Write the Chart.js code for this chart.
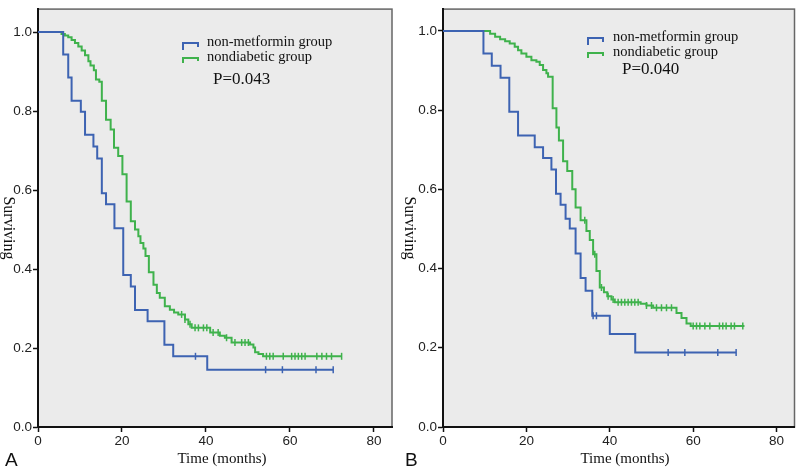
<!DOCTYPE html>
<html>
<head>
<meta charset="utf-8">
<script src="https://cdn.jsdelivr.net/npm/chart.js@4.4.0/dist/chart.umd.min.js"></script>
<style>
body { margin: 0; background: #fff; }
#wrap { position: relative; width: 800px; height: 468px; }
canvas { position: absolute; top: 0; }
#chartA { left: 0; }
#chartB { left: 400px; }
</style>
</head>
<body>
<div id="wrap">
  <canvas id="chartA" width="400" height="468"></canvas>
  <canvas id="chartB" width="400" height="468"></canvas>
</div>
<script>
// tick labels
var xTicks = [0, 20, 40, 60, 80];
var yTicks = [0, 0.2, 0.4, 0.6, 0.8, 1.0];

// panel A - step times (months) and survival after each step
var timeA_nonmet = [0, 6.0, 7.2, 8.0, 10.2, 11.2, 13.2, 14.1, 15.2, 16.2, 18.2, 20.3, 22.1, 23.1, 26.1, 30.1, 32.2, 40.3, 70.3];
var survA_nonmet = [1, 0.943, 0.885, 0.826, 0.798, 0.740, 0.710, 0.680, 0.592, 0.564, 0.503, 0.385, 0.356, 0.296, 0.268, 0.208, 0.179, 0.145, 0.145];
var censA_nonmet = [37.5, 54.2, 58.2, 66.2, 70.3];

var timeA_nondia = [0, 5.6, 6.4, 7.2, 8.0, 8.8, 9.6, 10.4, 11.2, 12.0, 12.5, 13.3, 13.8, 14.6, 15.2, 16.2, 17.3, 18.1, 19.1, 20.1,
  21.1, 22.1, 23.1, 23.9, 24.4, 25.1, 25.6, 26.4, 27.5, 28.3, 29.0, 30.2, 31.4, 32.4, 33.4, 35.0, 35.8, 36.6, 41.0, 43.3,
  44.5, 46.1, 50.5, 51.3, 51.7, 52.5, 53.6, 72.3];
var survA_nondia = [1, 0.995, 0.991, 0.987, 0.980, 0.972, 0.963, 0.953, 0.941, 0.926, 0.915, 0.903, 0.880, 0.874, 0.826, 0.778, 0.753, 0.707, 0.686, 0.640,
  0.571, 0.521, 0.500, 0.483, 0.466, 0.452, 0.433, 0.392, 0.360, 0.339, 0.327, 0.306, 0.297, 0.290, 0.285, 0.272, 0.260, 0.251, 0.239, 0.231,
  0.226, 0.214, 0.209, 0.201, 0.189, 0.185, 0.179, 0.179];
var censA_nondia = [34.2, 35.0, 36.2, 37.4, 38.2, 39.4, 40.2, 41.7, 42.9, 44.9, 46.9, 48.5, 49.3, 50.1,
  54.4, 55.2, 56.0, 58.4, 60.4, 61.2, 62.0, 62.8, 63.6, 66.4, 67.6, 68.7, 69.9, 72.3];

// panel B
var timeB_nonmet = [0, 9.7, 11.7, 13.8, 15.9, 18.0, 22.0, 24.0, 26.0, 27.1, 28.2, 29.4, 30.4, 31.8, 33.0, 34.2, 35.8, 40.0, 46.1, 70.3];
var survB_nonmet = [1, 0.943, 0.912, 0.882, 0.796, 0.736, 0.706, 0.679, 0.650, 0.589, 0.561, 0.526, 0.501, 0.438, 0.376, 0.344, 0.281, 0.235, 0.188, 0.188];
var censB_nonmet = [36.0, 36.8, 54.0, 58.0, 65.9, 70.3];

var timeB_nondia = [0, 11.3, 12.5, 13.7, 14.9, 16.0, 17.2, 18.0, 18.8, 20.0, 21.2, 22.4, 23.2, 24.0, 24.8, 25.2, 26.3, 27.2, 27.8, 28.8,
  29.8, 31.0, 31.8, 33.0, 34.4, 35.2, 36.0, 36.8, 37.6, 38.6, 39.4, 40.4, 41.2, 47.4, 48.8, 50.4, 56.0, 57.2, 58.4, 59.4, 72.3];
var survB_nondia = [1, 0.993, 0.985, 0.979, 0.974, 0.968, 0.960, 0.951, 0.943, 0.935, 0.926, 0.922, 0.914, 0.901, 0.893, 0.884, 0.805, 0.756, 0.723, 0.671,
  0.646, 0.600, 0.554, 0.522, 0.495, 0.472, 0.436, 0.394, 0.352, 0.340, 0.330, 0.322, 0.315, 0.311, 0.307, 0.301, 0.288, 0.275, 0.261, 0.255, 0.255];
var censB_nondia = [34.0, 36.4, 38.0, 39.6, 40.8, 42.0, 42.8, 43.6, 44.4, 45.2, 46.0, 46.8, 48.8, 50.0, 51.2, 52.4, 53.6, 54.8,
  60.0, 60.8, 61.6, 62.8, 64.0, 66.3, 67.1, 67.9, 69.1, 69.9, 71.9];

var blue = "#3d63b2";
var green = "#3fb24c";
var serif = "'Liberation Serif', 'Times New Roman', serif";
var tickFont = { family: "'Liberation Sans Narrow', 'Liberation Sans', sans-serif", size: 13.5 };

// {x,y} points for the step line
function stepPoints(times, surv) {
  return times.map(function (t, i) { return { x: t, y: surv[i] }; });
}

// censor marks sit on the curve level at that time
function censorPoints(times, surv, cens) {
  return cens.map(function (c) {
    var y = surv[0];
    for (var i = 0; i < times.length; i++) if (times[i] <= c) y = surv[i];
    return { x: c, y: y };
  });
}

// grey plot box, legend, titles
var kmDecor = {
  id: "kmDecor",
  beforeDraw: function (chart, args, o) {
    var a = chart.chartArea, ctx = chart.ctx;
    ctx.save();
    ctx.fillStyle = "#ebebeb";
    ctx.fillRect(a.left, a.top, a.right - a.left, a.bottom - a.top);
    ctx.strokeStyle = "#666";
    ctx.lineWidth = 1.5;
    ctx.strokeRect(a.left, a.top, a.right - a.left, a.bottom - a.top);
    ctx.restore();
  },
  afterDraw: function (chart, args, o) {
    var ctx = chart.ctx;
    ctx.save();
    // legend step symbols
    ctx.lineWidth = 2;
    ctx.strokeStyle = blue;
    ctx.beginPath();
    ctx.moveTo(o.symX, o.row1 + 8); ctx.lineTo(o.symX, o.row1 + 1);
    ctx.lineTo(o.symX + 15, o.row1 + 1); ctx.lineTo(o.symX + 15, o.row1 + 5);
    ctx.stroke();
    ctx.strokeStyle = green;
    ctx.beginPath();
    ctx.moveTo(o.symX, o.row2 + 6); ctx.lineTo(o.symX, o.row2 + 1);
    ctx.lineTo(o.symX + 15, o.row2 + 1); ctx.lineTo(o.symX + 15, o.row2 + 4);
    ctx.stroke();

    ctx.fillStyle = "#111";
    ctx.textBaseline = "middle";
    ctx.textAlign = "left";
    ctx.font = "14.5px " + serif;
    ctx.fillText("non-metformin group", o.textX, o.row1);
    ctx.fillText("nondiabetic group", o.textX, o.row2);
    ctx.font = "17px " + serif;
    ctx.fillText(o.pText, o.pX, o.pY);

    // axis titles
    ctx.font = "15px " + serif;
    ctx.textAlign = "center";
    ctx.fillText("Time (months)", o.timeX, 459);
    ctx.save();
    ctx.translate(o.survX, 228);
    ctx.rotate(Math.PI / 2);
    ctx.font = "16px " + serif;
    ctx.fillText("Surviving", 0, 0);
    ctx.restore();

    // panel letter
    ctx.font = "19px 'Liberation Sans', Arial, sans-serif";
    ctx.textAlign = "left";
    ctx.textBaseline = "alphabetic";
    ctx.fillText(o.letter, o.letterX, 466);
    ctx.restore();
  }
};

function makeChart(id, p) {
  return new Chart(document.getElementById(id), {
    type: "line",
    data: {
      datasets: [
        { data: stepPoints(p.t1, p.s1), borderColor: blue, borderWidth: 2, stepped: "before", pointRadius: 0, fill: false },
        { data: stepPoints(p.t2, p.s2), borderColor: green, borderWidth: 2, stepped: "before", pointRadius: 0, fill: false },
        { type: "scatter", data: censorPoints(p.t1, p.s1, p.c1), borderColor: blue, backgroundColor: blue,
          pointStyle: "line", rotation: 90, pointRadius: 3.5, borderWidth: 1.5 },
        { type: "scatter", data: censorPoints(p.t2, p.s2, p.c2), borderColor: green, backgroundColor: green,
          pointStyle: "line", rotation: 90, pointRadius: 3.5, borderWidth: 1.5 }
      ]
    },
    options: {
      responsive: false,
      animation: false,
      events: [],
      layout: { padding: { left: 0, top: p.top, right: 400 - p.right, bottom: 0 } },
      plugins: {
        legend: { display: false },
        tooltip: { enabled: false },
        kmDecor: p.decor
      },
      scales: {
        x: {
          type: "linear", min: 0, max: p.xMax,
          border: { color: "#111", width: 2 },
          grid: { drawOnChartArea: false, color: "#111", tickLength: 5, tickWidth: 1.5 },
          ticks: { font: tickFont, color: "#222", padding: 1, autoSkip: false, maxRotation: 0 },
          afterBuildTicks: function (s) { s.ticks = xTicks.map(function (v) { return { value: v }; }); },
          afterFit: function (s) { s.height = 41; }
        },
        y: {
          min: 0, max: p.yMax,
          border: { color: "#111", width: 2 },
          grid: { drawOnChartArea: false, color: "#111", tickLength: 5, tickWidth: 1.5 },
          ticks: { font: tickFont, color: "#222", padding: 1, callback: function (v) { return v.toFixed(1); } },
          afterBuildTicks: function (s) { s.ticks = yTicks.map(function (v) { return { value: v }; }); },
          afterFit: function (s) { s.width = p.left; }
        }
      }
    },
    plugins: [kmDecor]
  });
}

makeChart("chartA", {
  t1: timeA_nonmet, s1: survA_nonmet, c1: censA_nonmet,
  t2: timeA_nondia, s2: survA_nondia, c2: censA_nondia,
  left: 38, right: 392, top: 5, xMax: 84.3, yMax: 1.058,
  decor: { symX: 183, textX: 207, row1: 42, row2: 57, pText: "P=0.043", pX: 213, pY: 80,
    timeX: 222, survX: 8, letter: "A", letterX: 5 }
});

makeChart("chartB", {
  t1: timeB_nonmet, s1: survB_nonmet, c1: censB_nonmet,
  t2: timeB_nondia, s2: survB_nondia, c2: censB_nondia,
  left: 43, right: 395, top: 7, xMax: 84.3, yMax: 1.055,
  decor: { symX: 188, textX: 213, row1: 37, row2: 52, pText: "P=0.040", pX: 222, pY: 70,
    timeX: 225, survX: 9, letter: "B", letterX: 5 }
});
</script>
</body>
</html>
